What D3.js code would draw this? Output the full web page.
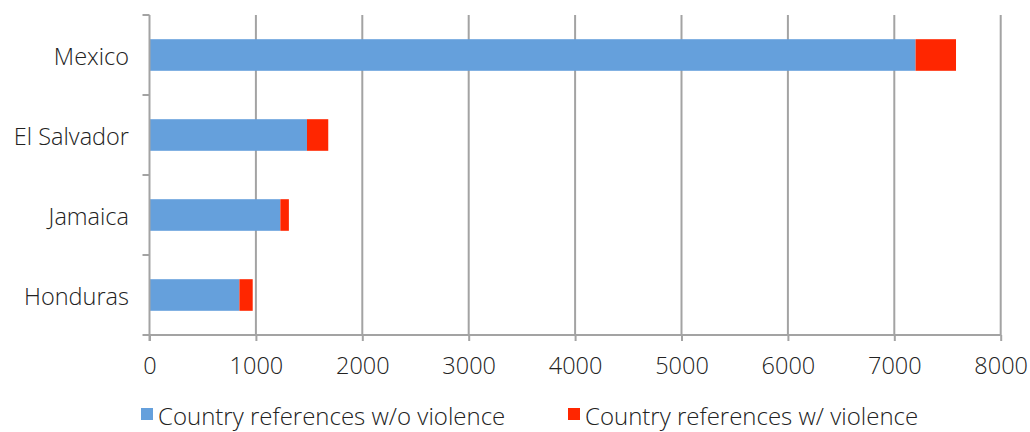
<!DOCTYPE html>
<html>
<head>
<meta charset="utf-8">
<script src="https://cdn.jsdelivr.net/npm/d3@7"></script>
<style>
  body { margin: 0; background: #fff; }
  svg text { font-family: "Open Sans", sans-serif; font-weight: 300; fill: #222; }
</style>
</head>
<body>
<svg id="chart" width="1030" height="432"></svg>
<script>
// categories top to bottom
const countries = ['Mexico', 'El Salvador', 'Jamaica', 'Honduras'];
// series values
const noViolence = [7200, 1480, 1230, 845];
const withViolence = [380, 200, 80, 125];
const seriesNames = ['Country references w/o violence', 'Country references w/ violence'];
const seriesColors = ['#65A0DC', '#FF2600'];
const xTicks = [0, 1000, 2000, 3000, 4000, 5000, 6000, 7000, 8000];

const svg = d3.select('#chart');
const pLeft = 149.5, pRight = 1000.7, pTop = 15, pBottom = 335;
const gridColor = '#a3a3a3';

const x = d3.scaleLinear().domain([0, 8000]).range([pLeft, pRight]);
const y = d3.scaleBand().domain(countries).range([pTop, pBottom])
	.paddingInner(0.605).paddingOuter(0.3025);

// vertical grid lines
svg.append('g')
	.selectAll('line')
	.data(xTicks.slice(1))
	.enter()
	.append('line')
	.attr('x1', d => x(d)).attr('x2', d => x(d))
	.attr('y1', pTop).attr('y2', pBottom)
	.attr('stroke', gridColor)
	.attr('stroke-width', 2);

// stacked bars
const rows = countries.map((c, i) => ({ name: c, a: noViolence[i], b: withViolence[i] }));
const stack = d3.stack().keys(['a', 'b'])(rows);

svg.append('g')
	.selectAll('g')
	.data(stack)
	.enter()
	.append('g')
	.attr('fill', (d, i) => seriesColors[i])
	.selectAll('rect')
	.data(d => d)
	.enter()
	.append('rect')
	.attr('x', d => x(d[0]))
	.attr('width', d => x(d[1]) - x(d[0]))
	.attr('y', d => y(d.data.name))
	.attr('height', y.bandwidth());

// x axis
const xAxis = svg.append('g')
	.attr('transform', `translate(0,${pBottom})`)
	.call(d3.axisBottom(x).tickValues(xTicks).tickFormat(d3.format('d'))
		.tickSize(6).tickPadding(16).tickSizeOuter(0));
xAxis.select('.domain').attr('stroke', gridColor).attr('stroke-width', 2)
	.attr('d', `M${pLeft - 7},0H${pRight}`);
xAxis.selectAll('.tick line').attr('stroke', gridColor).attr('stroke-width', 2);
xAxis.selectAll('.tick text')
	.style('font-size', '23.5px')
	.attr('fill', '#222');

// y axis: line with ticks at band boundaries
const yAxis = svg.append('g');
yAxis.append('line')
	.attr('x1', pLeft).attr('x2', pLeft)
	.attr('y1', pTop).attr('y2', pBottom + 6)
	.attr('stroke', gridColor).attr('stroke-width', 2);
const bounds = [pTop].concat(countries.slice(1).map(c => y(c) - y.step() * y.paddingInner() / 2));
yAxis.selectAll('.ytick')
	.data(bounds)
	.enter()
	.append('line')
	.attr('x1', pLeft - 7).attr('x2', pLeft)
	.attr('y1', d => d).attr('y2', d => d)
	.attr('stroke', gridColor).attr('stroke-width', 2);

yAxis.selectAll('.ylab')
	.data(countries)
	.enter()
	.append('text')
	.attr('x', 129)
	.attr('y', d => y(d) + y.bandwidth() / 2 + 10)
	.attr('text-anchor', 'end')
	.style('font-size', '23.5px')
	.text(d => d);

// legend (the reference crops it at the bottom edge; kept just inside)
const legendX = [141, 568];
const legend = svg.append('g')
	.selectAll('g')
	.data(seriesNames)
	.enter()
	.append('g')
	.attr('transform', (d, i) => `translate(${legendX[i]},408)`);
legend.append('rect')
	.attr('width', 12).attr('height', 12)
	.attr('fill', (d, i) => seriesColors[i]);
legend.append('text')
	.attr('x', 17)
	.attr('y', 17)
	.style('font-size', '24px')
	.text(d => d);
</script>
</body>
</html>
